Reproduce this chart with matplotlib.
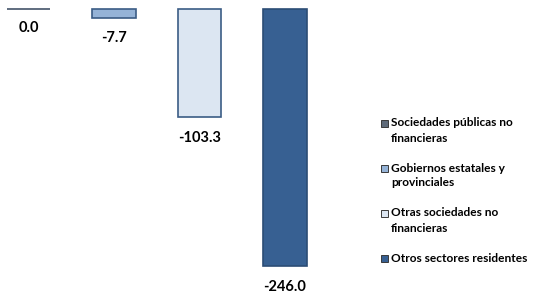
import matplotlib
matplotlib.use("Agg")
import matplotlib.pyplot as plt
from matplotlib.patches import Rectangle

categories = ["Sociedades públicas no\nfinancieras",
              "Gobiernos estatales y\nprovinciales",
              "Otras sociedades no\nfinancieras",
              "Otros sectores residentes"]
values = [0.0, -7.7, -103.3, -246.0]
labels = ["0.0", "-7.7", "-103.3", "-246.0"]
colors = ["#5f6b7a", "#95b3d7", "#dce6f2", "#376092"]
edges = ["#44546a", "#3b5c85", "#3b5c85", "#2c4d75"]

W, H = 536, 293
fig = plt.figure(figsize=(W / 100, H / 100), dpi=100)
ax = fig.add_axes([0, 0, 330 / W, 1])
x = list(range(len(values)))
bars = ax.bar(x, values, width=0.51, color=colors, edgecolor=edges, linewidth=1.2)
ax.set_xlim(-0.333, 3.526)
ax.set_ylim(-271.8, 9.1)
ax.axis("off")

lbl_font = dict(family="Lato", weight="bold", fontsize=10.5)
for xi, v, t in zip(x, values, labels):
    off = 13 if v == 0 else 15
    ax.annotate(t, (xi, v), xytext=(0, -off), textcoords="offset points",
                ha="center", va="center", **lbl_font)

# legend (square aligned with the first line of each label, as in the reference)
leg_font = dict(family="Lato", weight="bold", fontsize=8.6)
first_line_y = [123, 168, 213, 258.5]
for c, lab, yc in zip(colors, categories, first_line_y):
    sq = 7
    fig.patches.append(Rectangle((381 / W, 1 - (yc + sq / 2) / H), sq / W, sq / H,
                                 transform=fig.transFigure, facecolor=c,
                                 edgecolor="#3a3a3a", linewidth=0.7))
    for i, line in enumerate(lab.split("\n")):
        fig.text(391 / W, 1 - (yc + 15 * i) / H, line, ha="left", va="center",
                 **leg_font)

fig.savefig("out.png", dpi=100)
